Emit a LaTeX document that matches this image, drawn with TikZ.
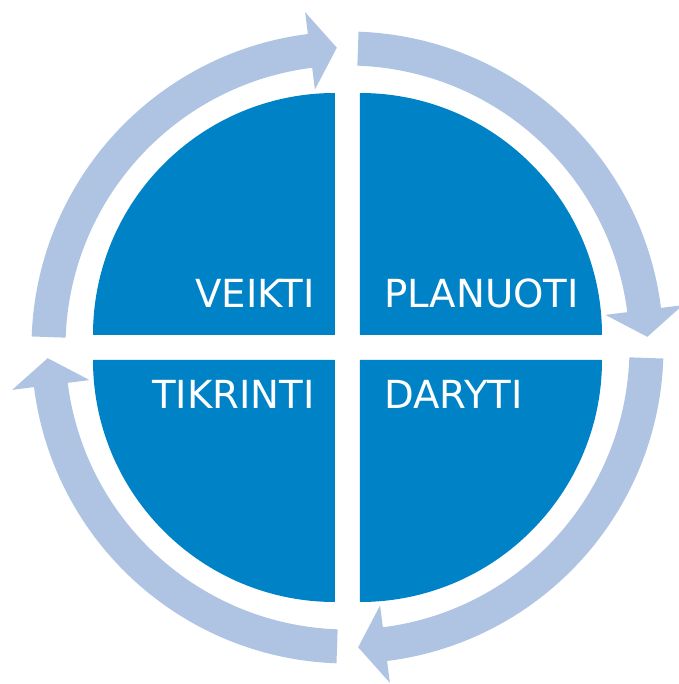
\documentclass[tikz,border=0pt]{standalone}
\usepackage{fontspec}
\setmainfont{DejaVu Sans}
\usepackage{tikz}
\usepackage{xcolor}

\definecolor{cycleblue}{RGB}{175,196,226}
\definecolor{quadblue}{RGB}{0,130,198}

\begin{document}
\begin{tikzpicture}[
        ringarrow/.style={fill=cycleblue},
        quadrant/.style={fill=quadblue},
        label/.style={text=white, inner sep=0pt, font=\fontsize{11}{13}\selectfont}
    ]
        \useasboundingbox (-3.475,-3.365) rectangle (3.305,3.475);
        % four quarter discs
        \fill[quadrant] (-0.125, 0.125) -- ++(-2.42,0) arc[start angle=180, end angle=90, radius=2.42] -- cycle;
        \fill[quadrant] (0.125, 0.125) -- ++(0,2.42) arc[start angle=90, end angle=0, radius=2.42] -- cycle;
        \fill[quadrant] (0.125, -0.125) -- ++(2.42,0) arc[start angle=0, end angle=-90, radius=2.42] -- cycle;
        \fill[quadrant] (-0.125, -0.125) -- ++(0,-2.42) arc[start angle=270, end angle=180, radius=2.42] -- cycle;
        % cycle arrows
        \foreach \r in {0,-90,-180,-270}
            \fill[ringarrow, rotate=\r] (88:3.16) arc[start angle=88, end angle=7.2, radius=3.16]
                -- (7.2:3.38) -- (2.04:3.0) -- (7.2:2.60) -- (7.2:2.82)
                arc[start angle=7.2, end angle=88, radius=2.82] -- cycle;
        % labels
        \node[label, anchor=base east] (veikti) at (-0.32, 0.395) {VEIKTI};
        \node[label, anchor=base west] (planuoti) at (0.36, 0.395) {PLANUOTI};
        \node[label, anchor=base east] (tikrinti) at (-0.32, -0.605) {TIKRINTI};
        \node[label, anchor=base west] (daryti) at (0.36, -0.605) {DARYTI};
    \end{tikzpicture}
\end{document}
